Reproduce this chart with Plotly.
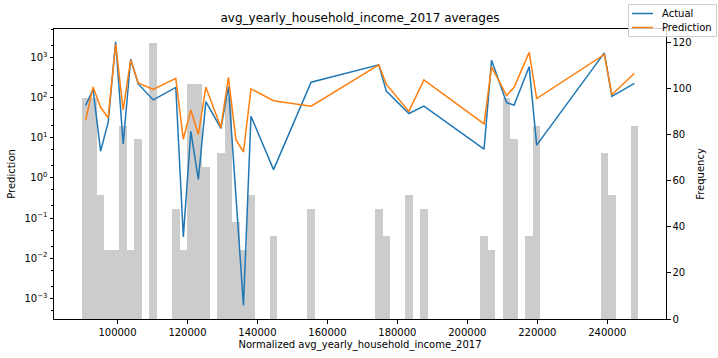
import plotly.graph_objects as go

# ---- data ----
hist_min = 89800.0
hist_max = 248830.0
n_bins = 74
bin_index = [0, 1, 2, 3, 4, 5, 6, 7, 9, 12, 13, 14, 15, 16, 18, 19, 20, 21, 22, 25,
             30, 39, 40, 43, 45, 53, 54, 56, 57, 59, 60, 69, 70, 73]
frequency = [96, 96, 54, 30, 30, 84, 30, 78, 120, 48, 30, 102, 102, 66, 72, 96, 42, 30, 54, 36,
             48, 48, 36, 54, 48, 36, 30, 96, 78, 36, 84, 72, 54, 84]
actual = [63, 158, 4.6, 24, 2450, 7, 910, 218, 87, 178, 0.034, 14.3, 0.91, 79, 17, 187, 0.35, 0.00067, 34, 1.6,
          240, 650, 144, 40, 61, 5.2, 840, 74, 65, 585, 6.5, 1290, 107, 225]
prediction = [27, 183, 57, 31, 2150, 49, 860, 230, 158, 300, 9.1, 49, 12, 180, 18, 318, 8.9, 4.4, 164, 83,
              61, 650, 214, 45, 275, 22, 577, 112, 180, 1330, 94, 1180, 117, 400]
x_ticks = [100000, 120000, 140000, 160000, 180000, 200000, 220000, 240000]
freq_ticks = [0, 20, 40, 60, 80, 100, 120]
log_ticks = [-3, -2, -1, 0, 1, 2, 3]
series_names = ["Actual", "Prediction"]
series_colors = ["#1f77b4", "#ff7f0e"]

bin_width = (hist_max - hist_min) / n_bins
x_vals = [hist_min + (i + 0.5) * bin_width for i in bin_index]

FONT = "DejaVu Sans"
W, H = 718, 358
ML, MR, MT, MB = 54, 52, 29, 39
PW, PH = W - ML - MR, H - MT - MB


def px_x(p):
    return (p - ML) / PW


def px_y(p):
    return (H - MB - p) / PH


fig = go.Figure()
fig.add_trace(go.Bar(x=x_vals, y=frequency, width=bin_width, marker=dict(color="#cccccc", line=dict(width=0)),
                     yaxis="y", showlegend=False, hoverinfo="skip"))
for name, vals, col in zip(series_names, [actual, prediction], series_colors):
    fig.add_trace(go.Scatter(x=x_vals, y=vals, mode="lines", name=name,
                             line=dict(color=col, width=1.5), yaxis="y2", showlegend=False))

# manual legend (matplotlib style box at the top-right corner)
shapes = [dict(type="rect", xref="paper", yref="paper", x0=px_x(628.5), x1=px_x(716.5), y0=px_y(36.5), y1=px_y(4.5),
               line=dict(color="#cccccc", width=1), fillcolor="rgba(255,255,255,0.8)", layer="above")]
annotations = []
for k, (name, col) in enumerate(zip(series_names, series_colors)):
    yy = 13.5 + 14 * k
    shapes.append(dict(type="line", xref="paper", yref="paper", x0=px_x(632), x1=px_x(653), y0=px_y(yy), y1=px_y(yy),
                       line=dict(color=col, width=1.5), layer="above"))
    annotations.append(dict(text=name, xref="paper", yref="paper", x=px_x(660), y=px_y(yy), xanchor="left",
                            yanchor="middle", showarrow=False, font=dict(size=10, family=FONT, color="black")))

fig.update_layout(
    width=W, height=H,
    margin=dict(l=ML, r=MR, t=MT, b=MB, autoexpand=False),
    paper_bgcolor="white", plot_bgcolor="white",
    font=dict(family=FONT, size=10, color="black"),
    showlegend=False,
    title=dict(text="avg_yearly_household_income_2017 averages", x=(ML + PW / 2) / W, xanchor="center",
               y=1 - 18 / H, yanchor="middle", font=dict(size=12, family=FONT)),
    bargap=0,
    shapes=shapes,
    annotations=annotations,
    xaxis=dict(range=[hist_min - 0.05 * (hist_max - hist_min), hist_max + 0.05 * (hist_max - hist_min)],
               tickvals=x_ticks, ticktext=[str(v) for v in x_ticks],
               showline=True, linecolor="black", linewidth=1, mirror=True, ticks="outside", ticklen=3.5,
               tickcolor="black", showgrid=False, zeroline=False,
               title=dict(text="Normalized avg_yearly_household_income_2017", standoff=4, font=dict(size=10))),
    yaxis=dict(side="right", range=[0, 126], tickvals=freq_ticks, showline=True, linecolor="black",
               linewidth=1, ticks="outside", ticklen=3.5, tickcolor="black", showgrid=False, zeroline=False,
               title=dict(text="Frequency", standoff=6, font=dict(size=10))),
    yaxis2=dict(overlaying="y", side="left", type="log", range=[-3.514, 3.705],
                tickvals=[10 ** k for k in log_ticks],
                ticktext=["10<sup>%d</sup>" % k if k >= 0 else "10<sup>\u2212%d</sup>" % (-k) for k in log_ticks],
                showline=True, linecolor="black", linewidth=1, ticks="outside", ticklen=3.5, tickcolor="black",
                minor=dict(ticks="outside", ticklen=2, tickcolor="black", showgrid=False),
                showgrid=False, zeroline=False,
                title=dict(text="Prediction", standoff=6, font=dict(size=10))),
)

fig.write_html("out.html")
